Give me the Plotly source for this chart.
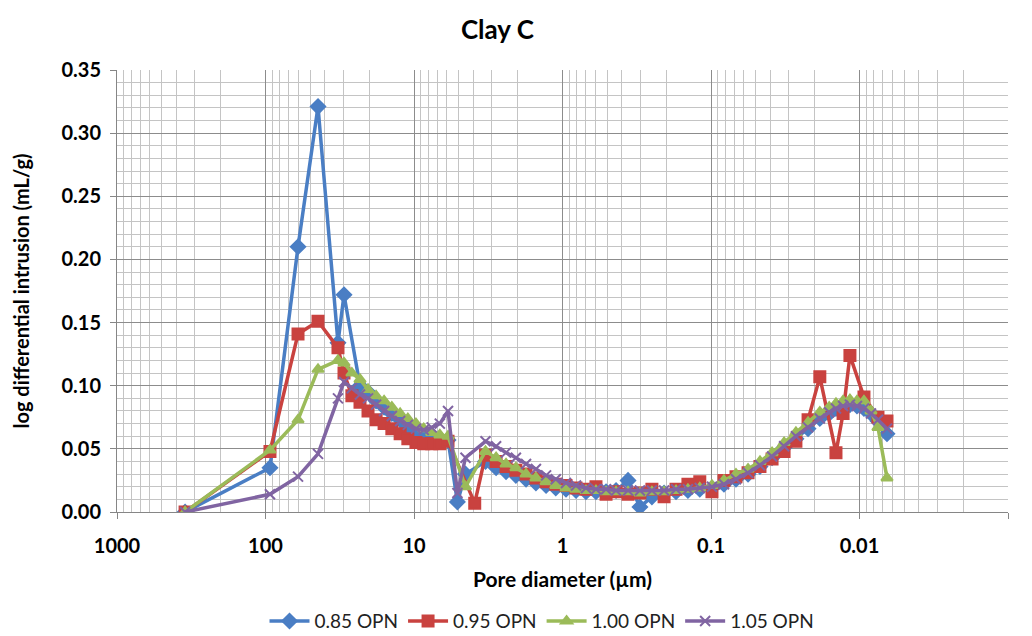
import plotly.graph_objects as go

# Pore diameter grid (µm), shared by all samples
pore_d = [348, 93.3, 60.4, 44.3, 32.5, 29.6, 26.2, 23.1, 20.4, 18.0,
          15.9, 14.1, 12.4, 11.0, 9.7, 8.6, 7.6, 6.7, 5.9, 5.1,
          4.5, 3.9, 3.3, 2.8, 2.4, 2.06, 1.76, 1.51, 1.29, 1.11,
          0.947, 0.811, 0.695, 0.595, 0.509, 0.436, 0.362, 0.301, 0.250, 0.207,
          0.172, 0.143, 0.119, 0.0985, 0.0818, 0.0679, 0.0563, 0.0468, 0.0388, 0.0322,
          0.0268, 0.0222, 0.0185, 0.0160, 0.0144, 0.0129, 0.0116, 0.0104, 0.00933, 0.00837,
          0.00751, 0.00653]

opn_085 = [0, 0.035, 0.210, 0.321, 0.134, 0.172, None, 0.100, 0.095, 0.088,
           0.083, 0.078, 0.073, 0.067, 0.063, 0.063, 0.060, 0.058, 0.057, 0.008,
           0.030, None, 0.040, 0.035, 0.032, 0.029, 0.026, 0.023, 0.021, 0.019,
           0.018, 0.017, 0.016, 0.016, 0.016, 0.017, 0.025, 0.004, 0.012, 0.015,
           0.016, 0.017, 0.018, 0.019, 0.022, 0.026, 0.030, 0.036, 0.043, 0.051,
           0.058, 0.066, 0.074, 0.078, 0.082, 0.084, 0.085, 0.084, 0.082, 0.078,
           0.072, 0.062]

opn_095 = [0, 0.048, 0.141, 0.151, 0.130, 0.110, 0.092, 0.087, 0.080, 0.073,
           0.070, 0.066, 0.062, 0.058, 0.055, 0.054, 0.054, 0.054, 0.056, None,
           None, 0.007, 0.045, 0.040, 0.036, 0.033, 0.030, 0.027, 0.024, 0.022,
           0.021, 0.019, 0.018, 0.020, 0.014, 0.016, 0.014, 0.015, 0.018, 0.012,
           0.018, 0.022, 0.024, 0.016, 0.025, 0.028, 0.031, 0.036, 0.042, 0.048,
           0.056, 0.073, 0.107, None, 0.047, 0.078, 0.124, None, 0.091, None,
           0.075, 0.072]

opn_100 = [0, 0.049, 0.073, 0.113, 0.120, 0.118, 0.110, 0.105, 0.097, 0.092,
           0.088, 0.083, 0.078, 0.074, 0.070, 0.066, 0.063, 0.061, 0.060, None,
           0.020, None, 0.048, 0.043, 0.038, 0.035, 0.030, 0.027, 0.024, 0.021,
           0.019, 0.018, 0.017, 0.017, 0.016, 0.016, 0.016, 0.015, 0.016, 0.016,
           0.017, 0.018, 0.019, 0.021, 0.025, 0.030, 0.034, 0.040, 0.047, 0.055,
           0.063, 0.071, 0.079, 0.083, 0.086, 0.088, 0.089, 0.088, 0.088, 0.080,
           0.067, 0.027]

opn_105 = [0, 0.014, 0.028, 0.046, 0.090, 0.103, 0.098, 0.093, 0.090, 0.085,
           0.080, 0.076, 0.072, 0.069, 0.066, 0.065, 0.067, 0.070, 0.080, 0.015,
           0.043, None, 0.056, 0.052, 0.047, 0.043, 0.038, 0.034, 0.029, 0.026,
           0.023, 0.021, 0.019, 0.018, 0.018, 0.017, 0.017, 0.017, 0.017, 0.017,
           0.018, 0.018, 0.019, 0.020, 0.022, 0.026, 0.031, 0.037, 0.044, 0.052,
           0.060, 0.067, 0.074, 0.079, 0.082, 0.084, 0.085, 0.084, 0.082, 0.078,
           0.073, 0.066]

series_names = ["0.85 OPN", "0.95 OPN", "1.00 OPN", "1.05 OPN"]
series_values = [opn_085, opn_095, opn_100, opn_105]
colors = ["#4A7EC4", "#C9423F", "#9BBB59", "#8064A2"]
symbols = ["diamond", "square", "triangle-up", "x-thin-open"]
msizes = [11, 11, 10, 10]

x_ticks = [1000, 100, 10, 1, 0.1, 0.01, 0.001]
x_ticktext = ["1000", "100", "10", "1", "0.1", "0.01", "0.001"]
y_ticks = [0.00, 0.05, 0.10, 0.15, 0.20, 0.25, 0.30, 0.35]
y_ticktext = ["0.00", "0.05", "0.10", "0.15", "0.20", "0.25", "0.30", "0.35"]

FONT = "Lato"

fig = go.Figure()
for name, vals, c, s, ms in zip(series_names, series_values, colors, symbols, msizes):
    fig.add_trace(go.Scatter(
        x=pore_d, y=vals, name=name, mode="lines+markers",
        connectgaps=True,
        line=dict(color=c, width=3.5),
        marker=dict(symbol=s, size=ms, color=c, line=dict(color=c, width=2)),
    ))

fig.update_layout(
    width=1032, height=636,
    margin=dict(l=117, r=24, t=70, b=124, autoexpand=False),
    paper_bgcolor="white", plot_bgcolor="white",
    font=dict(family=FONT, color="#000000"),
    title=dict(text="<b>Clay C</b>", x=0.482, xanchor="center", y=0.953, yanchor="middle",
               font=dict(size=26, family=FONT, color="#000")),
    legend=dict(orientation="h", x=0.477, xanchor="center", y=-0.247, yanchor="middle",
                font=dict(size=19, family=FONT, color="#222"), itemwidth=40,
                tracegroupgap=0),
    showlegend=True,
)

fig.update_xaxes(
    type="log", range=[3, -3], automargin=False,
    tickvals=x_ticks, ticktext=["<b>%s</b>" % t for t in x_ticktext],
    tickfont=dict(size=20, family=FONT, color="#000"),
    ticks="outside", ticklen=6, tickcolor="#868686", ticklabelstandoff=10,
    showline=True, linecolor="#868686", linewidth=1,
    showgrid=True, gridcolor="#8c8c8c", gridwidth=1,
    minor=dict(dtick="D1", showgrid=True, gridcolor="#c4c4c4", gridwidth=1, ticks=""),
    title=dict(text="<b>Pore diameter (µm)</b>", font=dict(size=21, family=FONT, color="#000"),
               standoff=16),
    zeroline=False, mirror=False,
)

fig.update_yaxes(
    range=[0, 0.35], automargin=False,
    tickvals=y_ticks, ticktext=["<b>%s</b>" % t for t in y_ticktext],
    tickfont=dict(size=20, family=FONT, color="#000"),
    ticks="outside", ticklen=6, tickcolor="#868686", ticklabelstandoff=5,
    showline=True, linecolor="#868686", linewidth=1,
    showgrid=True, gridcolor="#8c8c8c", gridwidth=1,
    minor=dict(dtick=0.01, showgrid=True, gridcolor="#c4c4c4", gridwidth=1, ticks=""),
    title=dict(text="<b>log differential intrusion (mL/g)</b>",
               font=dict(size=20, family=FONT, color="#000"), standoff=26),
    zeroline=False,
)

fig.write_html("out.html")
